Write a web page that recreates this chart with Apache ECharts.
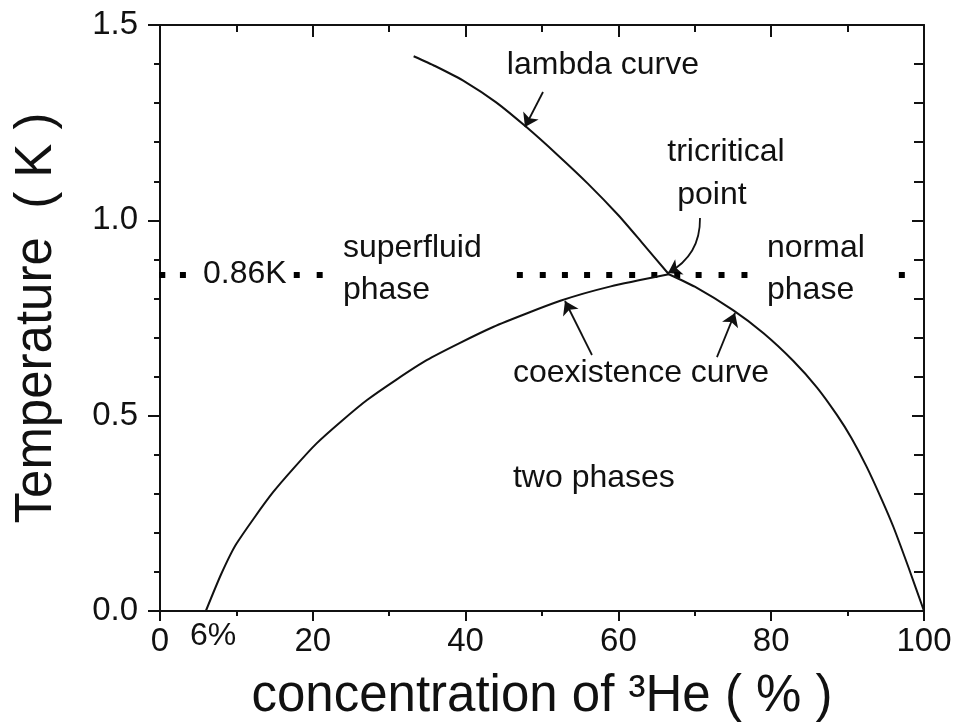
<!DOCTYPE html>
<html>
<head>
<meta charset="utf-8">
<script src="https://cdn.jsdelivr.net/npm/echarts@6/dist/echarts.min.js"></script>
<style>
html,body{margin:0;padding:0;background:#fff;}
#chart{width:958px;height:725px;}
</style>
</head>
<body>
<div id="chart"></div>
<script>
// ---- data ----
const xTickLabels = ['0', '20', '40', '60', '80', '100'];
const yTickLabels = ['0.0', '0.5', '1.0', '1.5'];

const lambdaX = [33.2, 36, 40, 44, 48, 52, 56, 60, 63, 66.6];
const lambdaY = [1.42, 1.395, 1.354, 1.302, 1.238, 1.168, 1.094, 1.013, 0.945, 0.862];

const coexLeftX = [6.0, 8.0, 10.0, 14.8, 20.5, 27.1, 34.9, 43.6, 52.4, 59.0, 66.6];
const coexLeftY = [0.0, 0.094, 0.172, 0.304, 0.429, 0.540, 0.642, 0.727, 0.794, 0.831, 0.862];

const coexRightX = [66.6, 70, 75, 79, 82.9, 86, 88.6, 90.5, 92.5, 94.5, 96, 98, 100];
const coexRightY = [0.862, 0.830, 0.770, 0.711, 0.640, 0.572, 0.502, 0.443, 0.369, 0.284, 0.215, 0.110, 0.0];

const dotLevel = 0.86;
const dotX = [0.3, 3.0, 17.9, 20.9, 47.1, 50.1, 53.0, 55.9, 58.8, 61.8, 64.7, 67.7, 70.5, 73.5, 76.5, 97.1];

const annoText = ['lambda curve', 'tricritical', 'point', 'superfluid', 'phase', '0.86K', 'normal', 'phase', 'coexistence curve', 'two phases', '6%'];
const annoX = [45.4, 66.4, 67.7, 23.95, 23.95, 5.63, 79.45, 79.45, 46.2, 46.2, 3.93];
const annoY = [1.398, 1.175, 1.065, 0.929, 0.822, 0.863, 0.929, 0.822, 0.609, 0.340, -0.064];

// arrows: tail -> head, with curveness
const arrowTailX = [50.13, 70.68, 56.54, 72.90];
const arrowTailY = [1.3285, 1.006, 0.6553, 0.650];
const arrowHeadX = [47.77, 66.49, 53.01, 75.26];
const arrowHeadY = [1.239, 0.865, 0.7935, 0.763];
const arrowCurve = [0, 0.3, 0, 0];

// ---- chart ----
const FONT = 'Liberation Sans, Arial, sans-serif';
const INK = '#111';
const zip = (a, b) => a.map((v, i) => [v, b[i]]);

const axisLine = {show: true, onZero: false, lineStyle: {color: INK, width: 2}};

const chart = echarts.init(document.getElementById('chart'), null, {renderer: 'canvas'});
chart.setOption({
  backgroundColor: '#fff',
  animation: false,
  textStyle: {fontFamily: FONT},
  grid: {left: 160, right: 34, top: 25, bottom: 114, containLabel: false, outerBoundsMode: 'none'},
  xAxis: [
    {
      type: 'value', position: 'bottom', min: 0, max: 100, interval: 20,
      axisLine: axisLine,
      axisTick: {show: true, inside: false, length: 10, lineStyle: {color: INK, width: 2}},
      minorTick: {show: true, splitNumber: 2, length: 5, lineStyle: {color: INK, width: 2}},
      splitLine: {show: false}, minorSplitLine: {show: false},
      axisLabel: {
        fontSize: 33, color: '#111', margin: 14, fontFamily: FONT,
        formatter: v => xTickLabels[Math.round(v / 20)]
      },
      name: 'concentration of ³He ( % )',
      nameLocation: 'middle', nameGap: 60,
      nameTextStyle: {fontSize: 51, color: INK, fontFamily: FONT}
    },
    {
      type: 'value', position: 'top', min: 0, max: 100, interval: 20,
      axisLine: axisLine,
      axisTick: {show: true, inside: true, length: 12, lineStyle: {color: INK, width: 2}},
      minorTick: {show: true, splitNumber: 2, length: 7, lineStyle: {color: INK, width: 2}},
      splitLine: {show: false}, axisLabel: {show: false}
    }
  ],
  yAxis: [
    {
      type: 'value', position: 'left', min: 0, max: 1.5, interval: 0.5,
      axisLine: axisLine,
      axisTick: {show: true, inside: false, length: 12, lineStyle: {color: INK, width: 2}},
      minorTick: {show: true, splitNumber: 5, length: 6, lineStyle: {color: INK, width: 2}},
      splitLine: {show: false}, minorSplitLine: {show: false},
      axisLabel: {
        fontSize: 33, color: '#111', margin: 22, fontFamily: FONT,
        formatter: v => yTickLabels[Math.round(v / 0.5)]
      },
      name: 'Temperature  ( K )',
      nameLocation: 'middle', nameGap: 98,
      nameTextStyle: {fontSize: 51, color: INK, fontFamily: FONT}
    },
    {
      type: 'value', position: 'right', min: 0, max: 1.5, interval: 0.5,
      axisLine: axisLine,
      axisTick: {show: true, inside: true, length: 12, lineStyle: {color: INK, width: 2}},
      minorTick: {show: true, splitNumber: 5, length: 10, lineStyle: {color: INK, width: 2}},
      splitLine: {show: false}, axisLabel: {show: false}
    }
  ],
  series: [
    {
      name: 'lambda', type: 'line', data: zip(lambdaX, lambdaY),
      showSymbol: false, smooth: 0.2,
      lineStyle: {color: INK, width: 2}
    },
    {
      name: 'coexLeft', type: 'line', data: zip(coexLeftX, coexLeftY),
      showSymbol: false, smooth: 0.2,
      lineStyle: {color: INK, width: 2}
    },
    {
      name: 'coexRight', type: 'line', data: zip(coexRightX, coexRightY),
      showSymbol: false, smooth: 0.2,
      lineStyle: {color: INK, width: 2}
    },
    {
      name: 'dots', type: 'scatter', clip: false,
      data: dotX.map(x => [x, dotLevel]),
      symbol: 'rect', symbolSize: 6,
      itemStyle: {color: '#000', opacity: 1}
    },
    {
      name: 'arrows', type: 'lines', coordinateSystem: 'cartesian2d',
      symbol: ['none', 'arrow'], symbolSize: 13,
      lineStyle: {color: INK, width: 1.8, opacity: 1},
      data: arrowTailX.map((tx, i) => ({
        coords: [[tx, arrowTailY[i]], [arrowHeadX[i], arrowHeadY[i]]],
        lineStyle: {curveness: arrowCurve[i]}
      }))
    },
    {
      name: 'annotations', type: 'scatter', clip: false,
      symbolSize: 1, itemStyle: {color: 'rgba(255,255,255,0)', opacity: 1},
      label: {
        show: true, position: 'inside', align: 'left', verticalAlign: 'middle',
        formatter: p => p.name, fontSize: 32, color: '#111', fontFamily: FONT, opacity: 1
      },
      data: annoText.map((t, i) => ({name: t, value: [annoX[i], annoY[i]]}))
    }
  ]
});
</script>
</body>
</html>
